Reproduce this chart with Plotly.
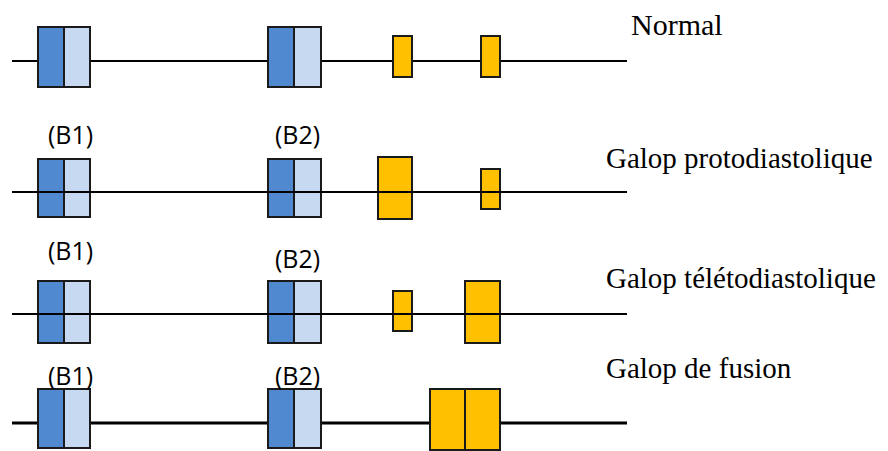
import plotly.graph_objects as go

# rows of the diagram (top to bottom)
row_names = ["Normal", "Galop protodiastolique", "Galop télétodiastolique", "Galop de fusion"]
row_name_x = [629, 604, 604, 604]
row_name_y = [24, 158, 278, 368]
baseline_y = [61, 192, 314, 423]
line_x = [12, 627]
line_over_boxes = [False, True, True, False]
line_w = [2.2, 2.2, 2.2, 3]

# B1 / B2 blocks: dark half then light half
b1_x = [38, 64, 90]
b2_x = [268, 294, 321]
blue_top = [27, 159, 281, 389]
blue_bottom = [87, 217, 343, 448]

# (B1)/(B2) labels
b_label_rows = [1, 2, 3]
b1_label_y = [134, 250, 375]
b2_label_y = [134, 258, 375]
b1_label_x = 70
b2_label_x = 297

# yellow (extra sounds): x0, x1, y0, y1 per row
yellow = [
    [(393, 412, 36, 77), (481, 500, 36, 77)],
    [(378, 412, 157, 219), (481, 500, 169, 209)],
    [(393, 412, 291, 331), (465, 500, 281, 343)],
    [(430, 465, 389, 450), (465, 500, 389, 450)],
]

dark_blue = "#5189D1"
light_blue = "#C6D9F0"
gold = "#FFC000"
edge = "#1A1A1A"

fig = go.Figure()
shapes = []


def rect(x0, x1, y0, y1, color):
    return dict(type="rect", xref="x", yref="y", x0=x0, x1=x1, y0=y0, y1=y1,
                fillcolor=color, line=dict(color=edge, width=2), layer="above")


for i, name in enumerate(row_names):
    base_line = dict(type="line", xref="x", yref="y", x0=line_x[0], x1=line_x[1],
                     y0=baseline_y[i], y1=baseline_y[i],
                     line=dict(color="black", width=line_w[i]), layer="above")
    if not line_over_boxes[i]:
        shapes.append(base_line)
    for bx in (b1_x, b2_x):
        shapes.append(rect(bx[0], bx[1], blue_top[i], blue_bottom[i], dark_blue))
        shapes.append(rect(bx[1], bx[2], blue_top[i], blue_bottom[i], light_blue))
    for (x0, x1, y0, y1) in yellow[i]:
        shapes.append(rect(x0, x1, y0, y1, gold))
    if line_over_boxes[i]:
        shapes.append(base_line)
    fig.add_annotation(x=row_name_x[i], y=row_name_y[i], text=name, showarrow=False,
                       xanchor="left", yanchor="middle",
                       font=dict(family="Liberation Serif", size=30 if i == 0 else 29, color="black"))

for k, r in enumerate(b_label_rows):
    fig.add_annotation(x=b1_label_x, y=b1_label_y[k], text="(B1)", showarrow=False,
                       xanchor="center", yanchor="middle",
                       font=dict(family="Open Sans", size=25, color="black"))
    fig.add_annotation(x=b2_label_x, y=b2_label_y[k], text="(B2)", showarrow=False,
                       xanchor="center", yanchor="middle",
                       font=dict(family="Open Sans", size=25, color="black"))

# page body has an 8px margin, so shift the axis ranges to line up with the window
fig.update_layout(
    shapes=shapes,
    width=888, height=451,
    margin=dict(l=0, r=0, t=0, b=0),
    paper_bgcolor="white", plot_bgcolor="white",
    showlegend=False,
    xaxis=dict(range=[8, 896], visible=False, fixedrange=True),
    yaxis=dict(range=[459, 8], visible=False, fixedrange=True),
)

fig.write_html("out.html")
